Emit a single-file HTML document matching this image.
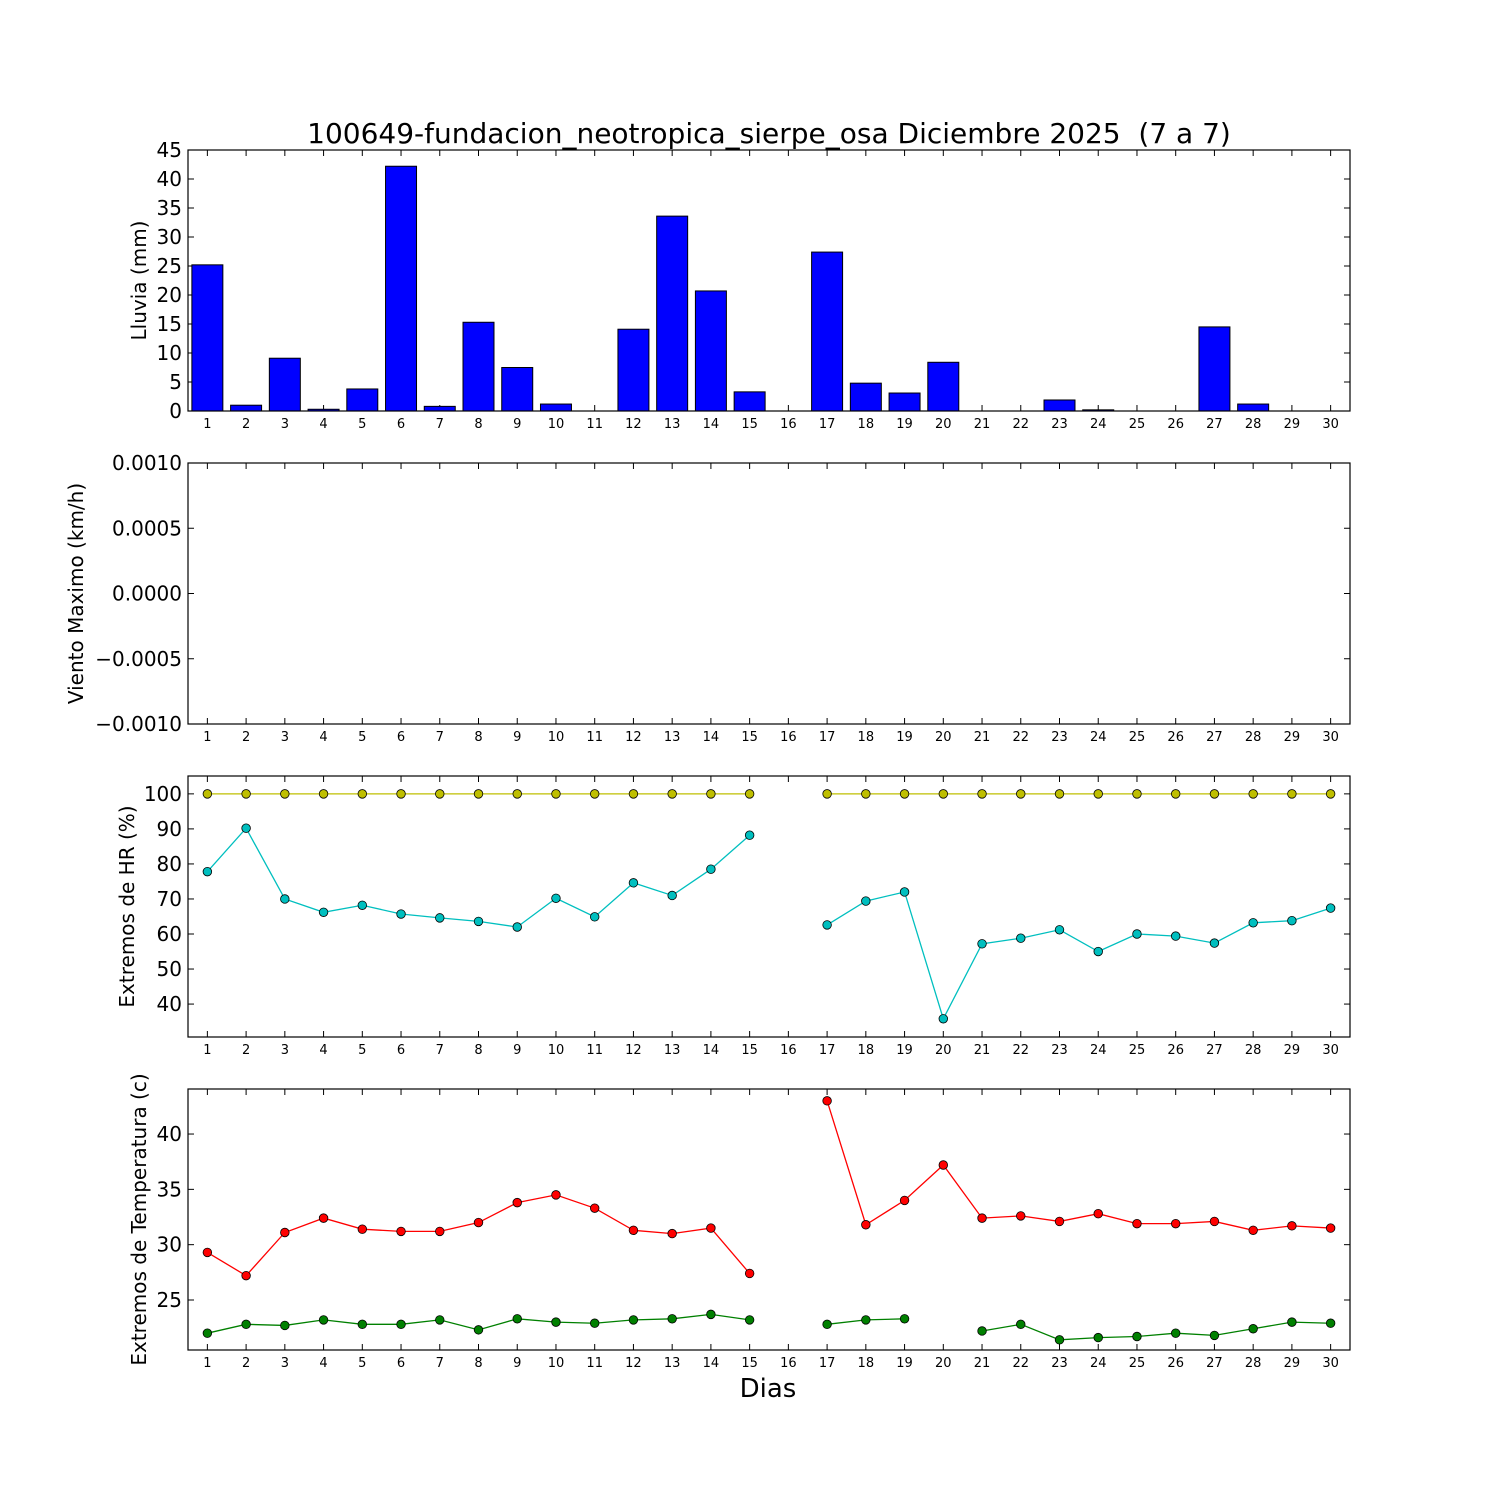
<!DOCTYPE html>
<html><head><meta charset="utf-8"><style>
html,body{margin:0;padding:0;background:#fff;}
svg{display:block;font-family:"DejaVu Sans","Liberation Sans",sans-serif;}
</style></head><body>
<svg id="chart" width="1500" height="1500" viewBox="0 0 1500 1500" xmlns="http://www.w3.org/2000/svg">
<rect width="1500" height="1500" fill="#fff"/>
<text x="769" y="143" font-size="28" text-anchor="middle">100649-fundacion_neotropica_sierpe_osa Diciembre 2025 &#160;(7 a 7)</text>
<text x="768" y="1397" font-size="26" text-anchor="middle">Dias</text>
</svg>
<script>
const days = [1,2,3,4,5,6,7,8,9,10,11,12,13,14,15,16,17,18,19,20,21,22,23,24,25,26,27,28,29,30];
const rain = [25.2,1.0,9.1,0.3,3.8,42.2,0.8,15.3,7.5,1.2,0,14.1,33.6,20.7,3.3,0,27.4,4.8,3.1,8.4,0,0,1.9,0.2,0,0,14.5,1.2,0,0];
const hrMax = [100,100,100,100,100,100,100,100,100,100,100,100,100,100,100,null,100,100,100,100,100,100,100,100,100,100,100,100,100,100];
const hrMin = [77.8,90.2,70,66.2,68.2,65.7,64.6,63.6,62,70.2,64.9,74.6,71,78.5,88.2,null,62.6,69.4,72,35.8,57.2,58.8,61.2,55,60,59.4,57.4,63.2,63.8,67.4];
const tMax = [29.3,27.2,31.1,32.4,31.4,31.2,31.2,32,33.8,34.5,33.3,31.3,31.0,31.5,27.4,null,43.0,31.8,34.0,37.2,32.4,32.6,32.1,32.8,31.9,31.9,32.1,31.3,31.7,31.5];
const tMin = [22,22.8,22.7,23.2,22.8,22.8,23.2,22.3,23.3,23,22.9,23.2,23.3,23.7,23.2,null,22.8,23.2,23.3,null,22.2,22.8,21.4,21.6,21.7,22,21.8,22.4,23,22.9];
const rainTicks = [0,5,10,15,20,25,30,35,40,45];
const windTicks = [-0.001,-0.0005,0,0.0005,0.001];
const windLabels = ["\u22120.0010","\u22120.0005","0.0000","0.0005","0.0010"];
const hrTicks = [40,50,60,70,80,90,100];
const tTicks = [25,30,35,40];

const svg = document.getElementById('chart');
const NS = 'http://www.w3.org/2000/svg';
const L = 188, R = 1350;
function mk(tag, attrs, parent){const e=document.createElementNS(NS,tag);for(const k in attrs)e.setAttribute(k,attrs[k]);(parent||svg).appendChild(e);return e;}
const xs = d => L + (d - 0.5) * (R - L) / 30;

function panel(name, top, bot, y0, y1, ticks, labels, ylabel, labelX){
  const g = mk('g', {});
  
  
  const ys = v => bot - (v - y0) / (y1 - y0) * (bot - top);
  ticks.forEach((t,i)=>{
    const y = ys(t);
    mk('line',{x1:L,x2:L+6,y1:y,y2:y,stroke:'#000'},g);
    mk('line',{x1:R,x2:R-6,y1:y,y2:y,stroke:'#000'},g);
    const tx = mk('text',{x:L-6,y:y+7,'font-size':20,'text-anchor':'end'},g);
    
    
    tx.textContent = labels ? labels[i] : String(t);
  });
  days.forEach(d=>{
    const x = xs(d);
    mk('line',{x1:x,x2:x,y1:bot,y2:bot-6,stroke:'#000'},g);
    mk('line',{x1:x,x2:x,y1:top,y2:top+6,stroke:'#000'},g);
    const tx = mk('text',{x:x,y:bot+17,'font-size':13,'text-anchor':'middle'},g);
    
    
    tx.textContent = d;
  });
  const cy = (top+bot)/2;
  const yl = mk('text',{x:0,y:0,'font-size':20,'text-anchor':'middle',transform:`translate(${labelX},${cy}) rotate(-90)`},g);
  
  
  yl.textContent = ylabel;
  return {g, ys, top, bot};
}
function frame(p){
  const r = mk('rect',{x:L,y:p.top,width:R-L,height:p.bot-p.top,fill:'none',stroke:'#000','stroke-width':1.2},p.g);
  
  
}
function series(p, vals, color, name){
  let seg = [];
  const segs = [];
  vals.forEach((v,i)=>{ if(v===null){ if(seg.length) segs.push(seg); seg=[]; } else seg.push([xs(days[i]), p.ys(v)]); });
  if(seg.length) segs.push(seg);
  segs.forEach(s=>{
    if(s.length>1){
      const pl = mk('polyline',{points:s.map(q=>q.join(',')).join(' '),fill:'none',stroke:color,'stroke-width':1.3},p.g);
      
      
    }
  });
  vals.forEach((v,i)=>{
    if(v===null) return;
    const c = mk('circle',{cx:xs(days[i]),cy:p.ys(v),r:4.3,fill:color,stroke:'#000','stroke-width':0.8},p.g);
    
    
  });
}

const p1 = panel('rain',150,411,0,45,rainTicks,null,'Lluvia (mm)',146);
const bw = 0.8*(R-L)/30;
rain.forEach((v,i)=>{
  const y = p1.ys(v);
  const b = mk('rect',{x:xs(days[i])-bw/2,y:y,width:bw,height:p1.bot-y,fill:'#0000ff',stroke:'#000','stroke-width':1},p1.g);
  
  
});
frame(p1);

const p2 = panel('wind',463,724,-0.001,0.001,windTicks,windLabels,'Viento Maximo (km/h)',83);
frame(p2);

const p3 = panel('hr',776,1037,30.6,105.1,hrTicks,null,'Extremos de HR (%)',134);
series(p3, hrMax, '#bfbf00', 'hr-max');
series(p3, hrMin, '#00bfbf', 'hr-min');
frame(p3);

const p4 = panel('temp',1089,1350,20.48,44.07,tTicks,null,'Extremos de Temperatura (c)',146);
series(p4, tMax, '#ff0000', 'temp-max');
series(p4, tMin, '#008000', 'temp-min');
frame(p4);
</script>
</body></html>
